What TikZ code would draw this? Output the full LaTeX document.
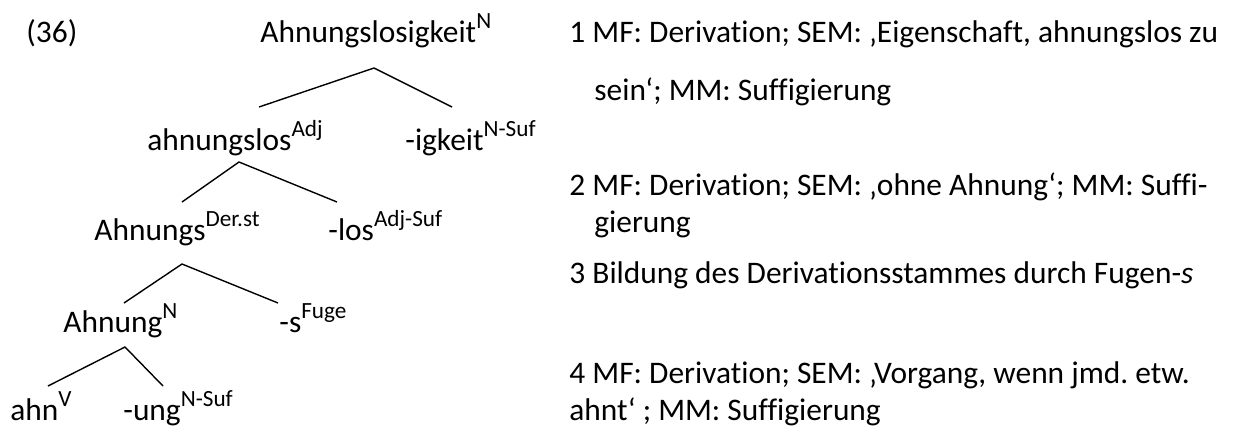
\documentclass[tikz,border=0pt]{standalone}
\usepackage{fontspec}
\setmainfont{Carlito}[Ligatures={NoCommon}]
\usepackage{tikz}
\usetikzlibrary{calc}

\newcommand{\hoch}[1]{\raisebox{7pt}{\fontsize{11.6}{12}\selectfont #1}}
\frenchspacing

\begin{document}
\begin{tikzpicture}[
	x=0.5pt, y=-0.5pt,
	wort/.style={
		anchor=base west, inner sep=0pt,
		font=\fontsize{15.7}{19}\selectfont, text=black
	},
	ast/.style={line width=0.7pt, black}
	]
	\useasboundingbox (0,0) rectangle (1244,425);
	% Baum
	\node[wort] (nr) at (26,42) {(36)};
	\node[wort] (root) at (260,42) {Ahnungslosigkeit\hoch{N}};
	\node[wort] (adj) at (147,150) {ahnungslos\hoch{Adj}};
	\node[wort] (igkeit) at (405,150) {-igkeit\hoch{N-Suf}};
	\node[wort] (stamm) at (94,240) {Ahnungs\hoch{Der.st}};
	\node[wort] (los) at (328,240) {-los\hoch{Adj-Suf}};
	\node[wort] (nomen) at (63,332) {Ahnung\hoch{N}};
	\node[wort] (fuge) at (279,332) {-s\hoch{Fuge}};
	\node[wort] (verb) at (10,420) {ahn\hoch{V}};
	\node[wort] (ung) at (123,420) {-ung\hoch{N-Suf}};
	% Aeste
	\coordinate (k1) at (374,68);  \coordinate (l1) at (259,107); \coordinate (r1) at (452,107);
	\coordinate (k2) at (239,162); \coordinate (l2) at (182,202); \coordinate (r2) at (337,202);
	\coordinate (k3) at (182,264); \coordinate (l3) at (124,303); \coordinate (r3) at (278,303);
	\coordinate (k4) at (125,347); \coordinate (l4) at (48,386);  \coordinate (r4) at (163,386);
	\foreach \k in {1,...,4}
	{
		\draw[ast] (l\k) -- (k\k) -- (r\k);
	}
	% Erlaeuterungen
	\node[wort] (t1) at (569,42) {1 MF: Derivation; SEM: ‚Eigenschaft, ahnungslos zu};
	\node[wort] (t1b) at (594,100) {sein‘; MM: Suffigierung};
	\node[wort] (t2) at (569,195) {2 MF: Derivation; SEM: ‚ohne Ahnung‘; MM: Suffi-};
	\node[wort] (t2b) at (594,232) {gierung};
	\node[wort] (t3) at (569,283) {3 Bildung des Derivationsstammes durch Fugen-\textit{s}};
	\node[wort] (t4) at (569,383) {4 MF: Derivation; SEM: ‚Vorgang, wenn jmd. etw.};
	\node[wort] (t4b) at (569,420) {ahnt‘ ; MM: Suffigierung};
\end{tikzpicture}
\end{document}
